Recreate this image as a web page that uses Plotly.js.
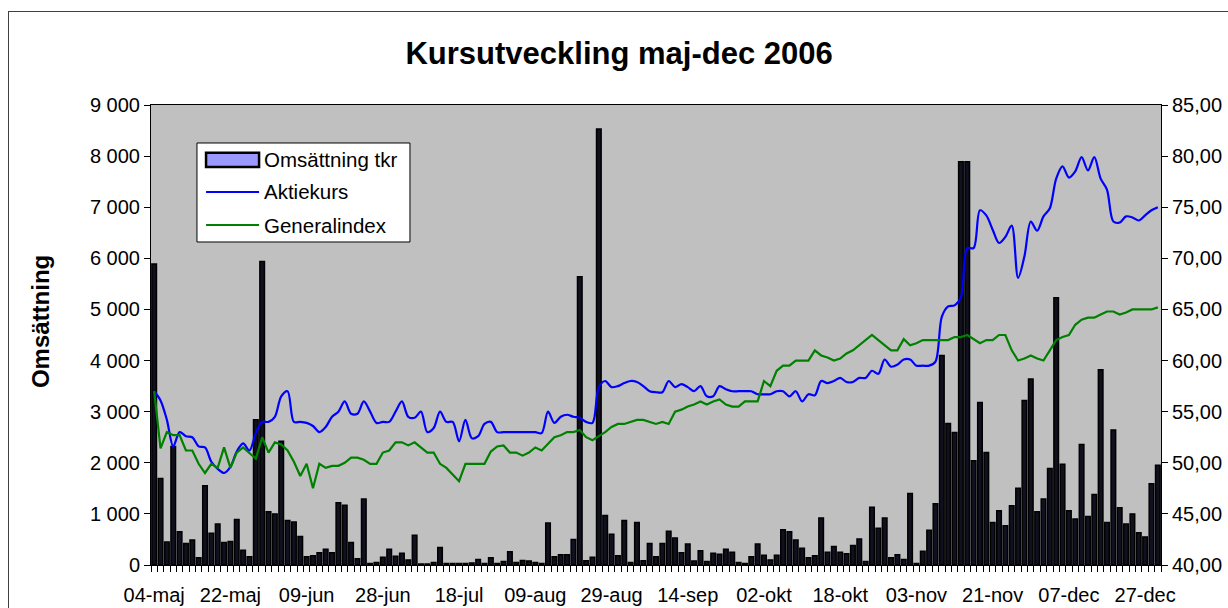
<!DOCTYPE html>
<html>
<head>
<meta charset="utf-8">
<script src="https://cdn.plot.ly/plotly-3.0.1.min.js"></script>
<style>
  html, body { margin: 0; padding: 0; background: #fff; overflow: hidden; }
  #chart { position: absolute; left: 0; top: 0; width: 1228px; height: 608px; }
  #frame { position: absolute; left: 8px; top: 11px; width: 1300px; height: 700px;
           border: 1.5px solid #404040; pointer-events: none; box-sizing: border-box; }
</style>
</head>
<body>
<div id="chart"></div>
<div id="frame"></div>
<script>
// ---- data ----
const dates = [
"04-maj","05-maj","08-maj","09-maj","10-maj","11-maj","12-maj","15-maj","16-maj","17-maj","18-maj","19-maj","22-maj","23-maj","24-maj","26-maj","29-maj","30-maj","31-maj",
"01-jun","02-jun","05-jun","07-jun","08-jun","09-jun","12-jun","13-jun","14-jun","15-jun","16-jun","19-jun","20-jun","21-jun","22-jun","26-jun","27-jun","28-jun","29-jun","30-jun",
"03-jul","05-jul","06-jul","07-jul","10-jul","11-jul","13-jul","14-jul","17-jul","18-jul","19-jul","20-jul","24-jul","25-jul","26-jul","28-jul","31-jul",
"02-aug","03-aug","07-aug","08-aug","09-aug","10-aug","11-aug","14-aug","16-aug","17-aug","18-aug","21-aug","23-aug","24-aug","25-aug","28-aug","29-aug","30-aug","31-aug",
"01-sep","04-sep","05-sep","06-sep","07-sep","08-sep","11-sep","12-sep","13-sep","14-sep","15-sep","18-sep","19-sep","20-sep","21-sep","22-sep","25-sep","26-sep","27-sep","28-sep","29-sep",
"02-okt","03-okt","04-okt","05-okt","06-okt","09-okt","10-okt","11-okt","12-okt","13-okt","16-okt","17-okt","18-okt","19-okt","20-okt","23-okt","24-okt","25-okt","26-okt","27-okt","30-okt","31-okt",
"01-nov","02-nov","03-nov","06-nov","07-nov","08-nov","09-nov","10-nov","13-nov","14-nov","15-nov","16-nov","17-nov","20-nov","21-nov","22-nov","23-nov","24-nov","27-nov","28-nov","29-nov","30-nov",
"01-dec","04-dec","05-dec","06-dec","07-dec","08-dec","11-dec","12-dec","13-dec","14-dec","15-dec","18-dec","19-dec","20-dec","21-dec","22-dec","27-dec","28-dec","29-dec"
];

const tickLabels = ["04-maj","22-maj","09-jun","28-jun","18-jul","09-aug","29-aug","14-sep","02-okt","18-okt","03-nov","21-nov","07-dec","27-dec"];

const omsattning = [
5890,1690,450,2320,650,420,490,140,1550,620,
800,440,460,890,290,160,2840,5940,1040,1000,
2420,870,840,560,160,180,240,310,240,1220,
1170,440,120,1290,30,50,150,310,170,230,
100,580,20,20,50,340,30,30,30,30,
40,110,30,140,30,70,260,50,90,80,
50,30,820,160,200,200,500,5640,85,150,
8530,970,600,180,870,50,830,85,420,160,
420,660,530,240,410,80,280,70,230,210,
310,250,50,30,160,410,190,100,190,690,
650,490,330,140,180,920,250,360,250,220,
380,510,70,1130,720,920,140,200,110,1400,
30,270,680,1200,4100,2770,2590,7890,7890,2040,
3180,2200,830,1060,770,1160,1500,3220,3640,1040,
1290,1890,5230,1970,1060,900,2360,950,1380,3820,
830,2640,1120,800,1000,630,550,1590,1950
];

const aktiekurs = [
57.0,56.1,54.2,51.6,53.0,52.6,52.5,51.6,51.5,50.1,
49.4,49.0,49.6,51.1,51.9,51.2,52.9,54.0,54.0,54.5,
56.5,57.0,54.0,54.0,53.9,53.6,53.0,53.5,54.5,55.0,
56.0,54.8,54.8,56.0,55.0,53.9,54.0,54.0,55.0,56.0,
54.5,54.4,55.0,53.0,53.4,55.0,54.0,54.0,52.1,54.2,
52.4,52.6,53.8,54.0,53.0,53.0,53.0,53.0,53.0,53.0,
53.0,52.9,55.0,53.9,54.5,54.7,54.5,54.4,54.0,53.9,
57.4,58.0,57.4,57.5,57.8,58.0,57.9,57.5,57.0,56.9,
56.9,58.0,57.4,57.7,57.4,57.0,57.5,56.5,56.5,57.5,
57.2,57.0,57.0,57.0,57.0,56.7,56.7,56.7,57.0,57.0,
56.5,57.0,56.0,56.7,56.6,58.0,57.8,58.0,58.3,57.9,
57.9,58.3,58.3,59.0,58.7,60.1,59.4,59.6,60.1,60.1,
59.5,59.5,59.5,59.9,64.3,65.3,65.4,66.2,71.0,71.0,
74.7,74.2,72.8,71.5,72.1,73.2,68.1,70.2,73.6,72.7,
74.1,74.9,77.8,79.0,77.9,78.5,79.9,78.6,79.9,77.8,
76.7,73.6,73.5,74.1,74.0,73.7,74.2,74.7,75.0
];

const generalindex = [
57.0,51.4,53.0,52.7,52.7,51.2,51.2,49.9,49.0,49.9,
49.5,51.5,49.5,51.0,51.5,50.9,50.4,52.5,51.0,52.0,
51.8,51.2,50.1,48.7,49.9,47.5,49.9,49.5,49.7,49.7,
50.0,50.5,50.5,50.3,49.9,49.9,51.0,51.2,52.0,52.0,
51.7,52.0,51.5,51.0,51.0,49.9,49.5,48.8,48.2,49.9,
49.9,49.9,49.9,51.1,51.6,51.7,51.0,51.0,50.7,51.0,
51.5,51.2,51.9,52.5,52.7,53.0,53.0,53.2,52.5,52.2,
52.6,53.0,53.5,53.8,53.8,54.0,54.2,54.2,54.0,53.8,
54.0,53.8,55.0,55.2,55.5,55.7,56.0,55.7,56.0,56.2,
55.7,55.5,55.5,56.0,56.0,56.0,58.0,57.5,59.0,59.5,
59.5,60.0,60.0,60.0,61.0,60.5,60.3,60.0,60.2,60.7,
61.0,61.5,62.0,62.5,62.0,61.5,61.0,61.0,62.1,61.5,
61.7,62.0,62.0,62.0,62.0,62.0,62.3,62.3,62.5,62.1,
61.7,62.0,62.0,62.5,62.5,61.0,60.0,60.2,60.5,60.2,
60.0,61.0,62.0,62.3,62.5,63.5,64.0,64.2,64.2,64.5,
64.8,64.8,64.5,64.7,65.0,65.0,65.0,65.0,65.2
];

const seriesNames = ["Omsättning tkr", "Aktiekurs", "Generalindex"];

// ---- build ----
const xIdx = dates.map((d, i) => i);
const tickIdx = tickLabels.map(l => dates.indexOf(l));
const FONT = "Liberation Sans, Arial, sans-serif";

const traces = [
  {
    type: "bar", name: seriesNames[0], x: xIdx, y: omsattning, yaxis: "y",
    width: 0.72,
    marker: { color: "#10101f", line: { color: "#000000", width: 1.5 } },
    showlegend: false, hoverinfo: "x+y"
  },
  {
    type: "scatter", mode: "lines", name: seriesNames[1], x: xIdx, y: aktiekurs, yaxis: "y2",
    line: { color: "#0000FF", width: 2.2, shape: "spline", smoothing: 0.9 },
    showlegend: false
  },
  {
    type: "scatter", mode: "lines", name: seriesNames[2], x: xIdx, y: generalindex, yaxis: "y2",
    line: { color: "#008000", width: 2.2 },
    showlegend: false
  }
];

// legend geometry (paper coordinates of plot area)
const lg = { x0: 0.0455, x1: 0.2564, y0: 0.7022, y1: 0.9174 };
const sw = { x0: 0.0545, x1: 0.1070 };
const rowY = [0.8805, 0.8109, 0.7391];

const layout = {
  width: 1228, height: 608,
  margin: { l: 151, r: 67, t: 105, b: 43, pad: 0 },
  paper_bgcolor: "#ffffff",
  plot_bgcolor: "#C0C0C0",
  separators: ", ",
  font: { family: FONT, size: 19.5, color: "#000" },
  title: {
    text: "<b>Kursutveckling maj-dec 2006</b>",
    font: { family: FONT, size: 31, color: "#000" },
    x: 0.4635, xanchor: "center", xref: "paper",
    y: 1 - 53 / 608, yanchor: "middle", yref: "container"
  },
  xaxis: {
    type: "linear",
    range: [-0.5, dates.length - 0.5],
    tickmode: "array", tickvals: tickIdx, ticktext: tickLabels,
    ticks: "outside", ticklen: 12, tickcolor: "rgba(0,0,0,0)",
    tickfont: { family: FONT, size: 20, color: "#000" },
    minor: { tickmode: "linear", tick0: -0.5, dtick: 1, ticks: "outside", ticklen: 6, tickcolor: "#000", tickwidth: 1, showgrid: false },
    showline: true, linecolor: "#000", linewidth: 1, mirror: true,
    showgrid: false, zeroline: false, fixedrange: true
  },
  yaxis: {
    range: [0, 9000], tickmode: "linear", tick0: 0, dtick: 1000,
    tickformat: ",d",
    ticks: "outside", ticklen: 6, tickcolor: "#000",
    tickfont: { family: FONT, size: 20, color: "#000" },
    showline: true, linecolor: "#000", linewidth: 1,
    showgrid: false, zeroline: false
  },
  yaxis2: {
    overlaying: "y", side: "right",
    range: [40, 85], tickmode: "linear", tick0: 40, dtick: 5,
    tickformat: ".2f",
    ticks: "outside", ticklen: 6, tickcolor: "#000",
    tickfont: { family: FONT, size: 20, color: "#000" },
    showline: true, linecolor: "#000", linewidth: 1,
    showgrid: false, zeroline: false
  },
  shapes: [
    { type: "rect", xref: "paper", yref: "paper", x0: lg.x0, x1: lg.x1, y0: lg.y0, y1: lg.y1,
      fillcolor: "#ffffff", line: { color: "#000", width: 1 }, layer: "above" },
    { type: "rect", xref: "paper", yref: "paper", x0: sw.x0, x1: sw.x1, y0: rowY[0] - 0.0155, y1: rowY[0] + 0.0155,
      fillcolor: "#9999FF", line: { color: "#000", width: 2.5 }, layer: "above" },
    { type: "line", xref: "paper", yref: "paper", x0: sw.x0, x1: sw.x1, y0: rowY[1], y1: rowY[1],
      line: { color: "#0000FF", width: 2.2 }, layer: "above" },
    { type: "line", xref: "paper", yref: "paper", x0: sw.x0, x1: sw.x1, y0: rowY[2], y1: rowY[2],
      line: { color: "#008000", width: 2.2 }, layer: "above" }
  ],
  annotations: [
    { xref: "paper", yref: "paper", x: -0.11, y: 0.53, text: "<b>Omsättning</b>", textangle: -90,
      showarrow: false, xanchor: "center", yanchor: "middle", font: { family: FONT, size: 24, color: "#000" } }
  ].concat(seriesNames.map((n, k) => ({
      xref: "paper", yref: "paper", x: 0.1100, y: rowY[k], text: n, showarrow: false,
      xanchor: "left", yanchor: "middle", font: { family: FONT, size: 20.5, color: "#000" }
  })))
};

Plotly.newPlot("chart", traces, layout, { staticPlot: true, displayModeBar: false });
</script>
</body>
</html>
